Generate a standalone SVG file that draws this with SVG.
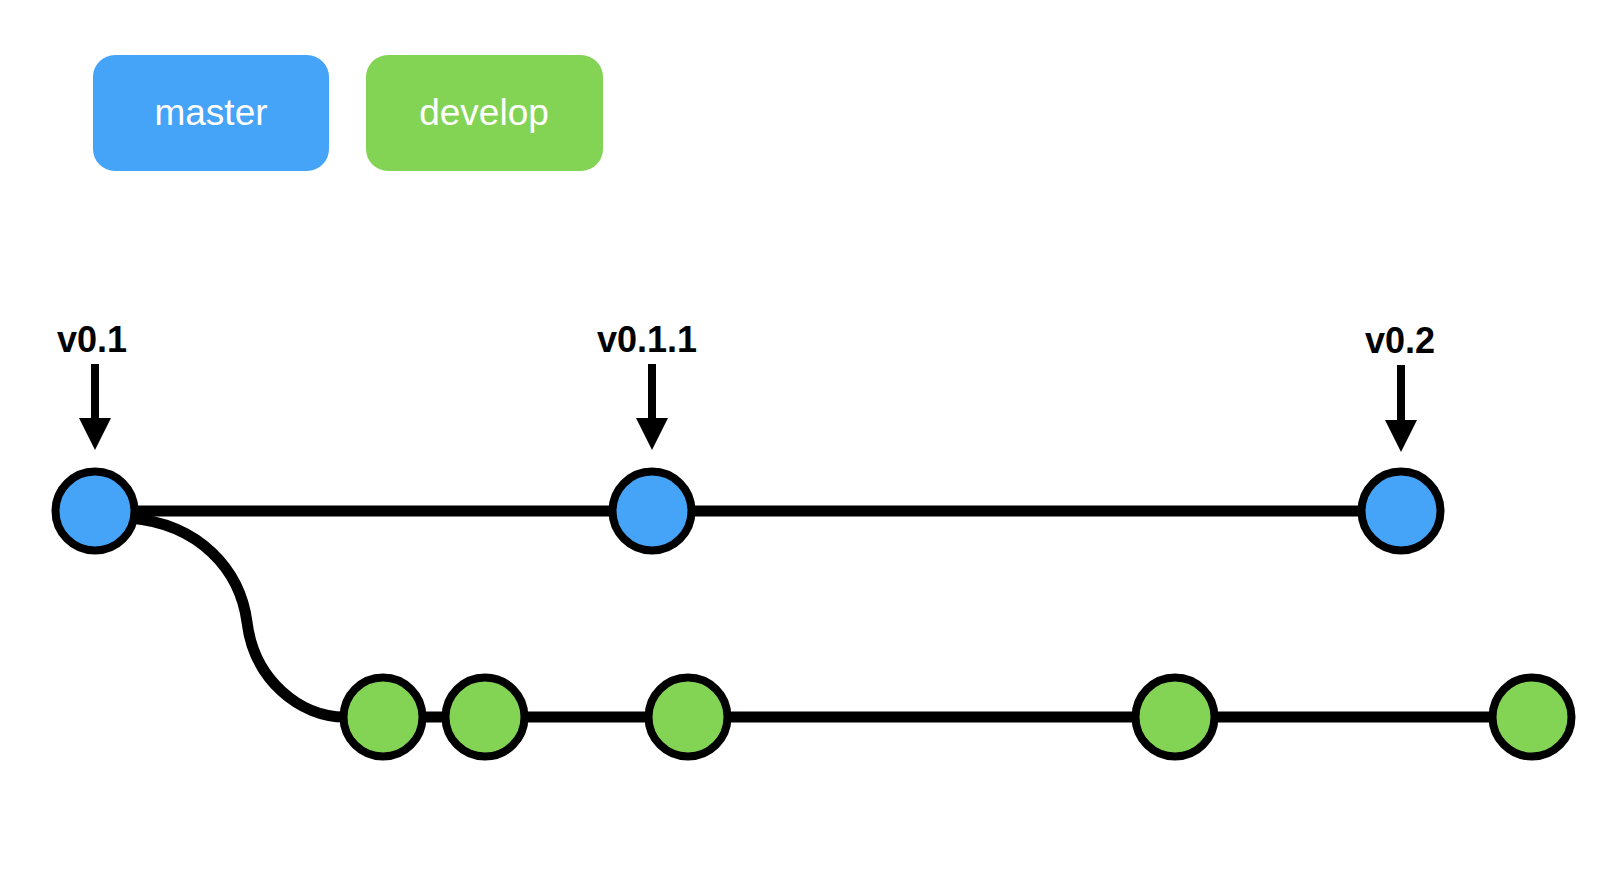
<svg xmlns="http://www.w3.org/2000/svg" width="1612" height="880" viewBox="0 0 1612 880">
<style>
.box-m{fill:#45A3F8}
.box-d{fill:#83D455}
.btxt{font-family:"Liberation Sans",Arial,sans-serif;font-size:37px;fill:#fff;text-anchor:middle}
.tag{font-family:"Liberation Sans",Arial,sans-serif;font-size:36px;font-weight:bold;fill:#000;text-anchor:middle}
.line{stroke:#000;stroke-width:11;fill:none}
.shaft{stroke:#000;stroke-width:8;fill:none}
.head{fill:#000}
.cm{fill:#45A3F8;stroke:#000;stroke-width:8}
.cd{fill:#83D455;stroke:#000;stroke-width:8}
</style>
<rect width="1612" height="880" fill="#fff"/>
<g id="legend-master">
<rect class="box-m" x="93" y="55" width="236" height="116" rx="22"/>
<text class="btxt" x="211" y="125">master</text>
</g>
<g id="legend-develop">
<rect class="box-d" x="366" y="55" width="237" height="116" rx="22"/>
<text class="btxt" x="484" y="125">develop</text>
</g>
<g id="connectors">
<line class="line" x1="95" y1="511" x2="1401" y2="511"/>
<line class="line" x1="383" y1="717" x2="1532" y2="717"/>
<path class="line" d="M 130 518 C 200 524, 240 570, 247 622 C 254 680, 300 717, 345 717"/>
</g>
<g id="tag-v0.1">
<text class="tag" x="92" y="352">v0.1</text>
<line class="shaft" x1="95" y1="364" x2="95" y2="422"/>
<polygon class="head" points="79,418 111,418 95,450"/>
</g>
<g id="tag-v0.1.1">
<text class="tag" x="647" y="352">v0.1.1</text>
<line class="shaft" x1="652" y1="364" x2="652" y2="422"/>
<polygon class="head" points="636,418 668,418 652,450"/>
</g>
<g id="tag-v0.2">
<text class="tag" x="1400" y="353">v0.2</text>
<line class="shaft" x1="1401" y1="365" x2="1401" y2="424"/>
<polygon class="head" points="1385,420 1417,420 1401,452"/>
</g>
<g id="m1"><circle class="cm" cx="95" cy="511" r="39.5"/></g>
<g id="m2"><circle class="cm" cx="652" cy="511" r="39.5"/></g>
<g id="m3"><circle class="cm" cx="1401" cy="511" r="39.5"/></g>
<g id="d1"><circle class="cd" cx="383" cy="717" r="39.5"/></g>
<g id="d2"><circle class="cd" cx="485" cy="717" r="39.5"/></g>
<g id="d3"><circle class="cd" cx="688" cy="717" r="39.5"/></g>
<g id="d4"><circle class="cd" cx="1175" cy="717" r="39.5"/></g>
<g id="d5"><circle class="cd" cx="1532" cy="717" r="39.5"/></g>
</svg>
